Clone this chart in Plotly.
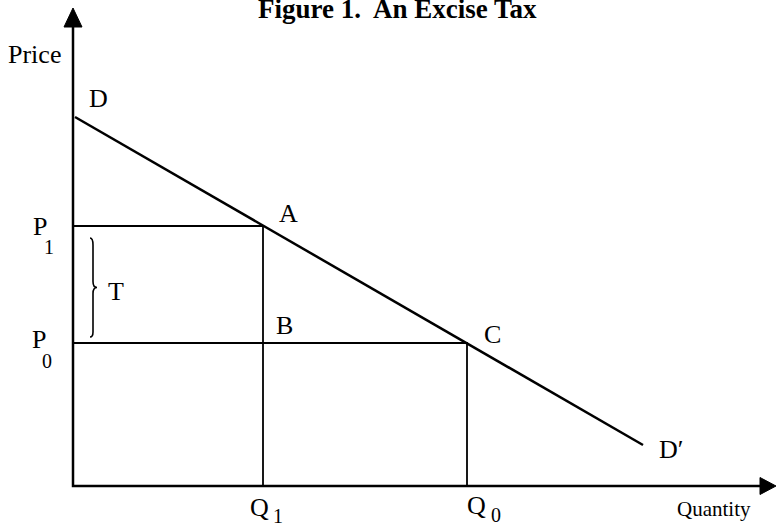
import plotly.graph_objects as go

# ---- data (model units) ----
point_labels = ["A", "B", "C"]
Q1 = 19.0
Q0 = 39.4
P1 = 26.0
P0 = 14.3
demand_q = [0.2, 57.0]
demand_p = [36.9, 4.1]
x_axis_end = 70.3
y_axis_end = 47.8

FONT = "Liberation Serif"
BLACK = "black"

fig = go.Figure()

# axes
fig.add_trace(go.Scatter(x=[0, 0, x_axis_end - 1.2], y=[y_axis_end - 1.5, 0, 0], mode="lines",
                         line=dict(color=BLACK, width=2.5), hoverinfo="skip"))
# arrowheads
fig.add_trace(go.Scatter(x=[-0.9, 0, 0.9, -0.9], y=[y_axis_end - 1.9, y_axis_end, y_axis_end - 1.9, y_axis_end - 1.9],
                         mode="lines", fill="toself", fillcolor=BLACK, line=dict(color=BLACK, width=1),
                         hoverinfo="skip"))
fig.add_trace(go.Scatter(x=[x_axis_end - 1.6, x_axis_end, x_axis_end - 1.6, x_axis_end - 1.6], y=[0.85, 0, -0.85, 0.85],
                         mode="lines", fill="toself", fillcolor=BLACK, line=dict(color=BLACK, width=1),
                         hoverinfo="skip"))

# demand curve
fig.add_trace(go.Scatter(x=demand_q, y=demand_p, mode="lines",
                         line=dict(color=BLACK, width=2.5), hoverinfo="skip"))

# price guide lines
fig.add_trace(go.Scatter(x=[0, Q1, Q1], y=[P1, P1, 0], mode="lines",
                         line=dict(color=BLACK, width=1.8), hoverinfo="skip"))
fig.add_trace(go.Scatter(x=[0, Q0, Q0], y=[P0, P0, 0], mode="lines",
                         line=dict(color=BLACK, width=1.8), hoverinfo="skip"))

# brace for T
bt, bb = P1 - 1.2, P0 + 0.6
bm = (bt + bb) / 2
bx0, bx1, bx2 = 1.7, 2.0, 2.4
path = (f"M {bx0},{bt} Q {bx1},{bt} {bx1},{bt-0.7} L {bx1},{bm+0.6} "
        f"Q {bx1},{bm} {bx2},{bm} Q {bx1},{bm} {bx1},{bm-0.6} "
        f"L {bx1},{bb+0.5} Q {bx1},{bb} {bx0},{bb}")
fig.add_shape(type="path", path=path, xref="x", yref="y", line=dict(color=BLACK, width=1.6))

def label(text, x, y, size=26):
    fig.add_annotation(x=x, y=y, xref="x", yref="y", text=text, showarrow=False,
                       font=dict(family=FONT, size=size, color=BLACK),
                       xanchor="center", yanchor="middle")

label("Price", -3.9, 43.2, 26)
label("Quantity", 64.1, -2.3, 21)
label("D", 2.5, 38.8)
label(point_labels[0], 21.5, 27.3)
label(point_labels[1], 21.1, 16.1)
label(point_labels[2], 41.9, 15.2)
label("D′", 59.8, 3.7)
label("T", 4.3, 19.5)
label("P", -3.3, 26.0)
label("1", -2.4, 23.9, 20)
label("P", -3.4, 14.7)
label("0", -2.6, 12.5, 20)
label("Q", 18.6, -2.1)
label("1", 20.5, -3.0, 20)
label("Q", 40.3, -1.9)
label("0", 42.3, -2.9, 20)

fig.add_annotation(x=397 / 778, y=1.016, xref="paper", yref="paper",
                   text="<b>Figure 1.  An Excise Tax</b>", showarrow=False,
                   font=dict(family=FONT, size=27, color=BLACK),
                   xanchor="center", yanchor="top")

fig.update_layout(
    width=778, height=526,
    margin=dict(l=0, r=0, t=0, b=0),
    paper_bgcolor="white", plot_bgcolor="white",
    showlegend=False,
    xaxis=dict(range=[-7.3, 70.5], visible=False, fixedrange=True),
    yaxis=dict(range=[-4.0, 48.6], visible=False, fixedrange=True),
)

fig.write_html("out.html", config={"displayModeBar": False},
               post_script="document.body.style.margin='0';")
